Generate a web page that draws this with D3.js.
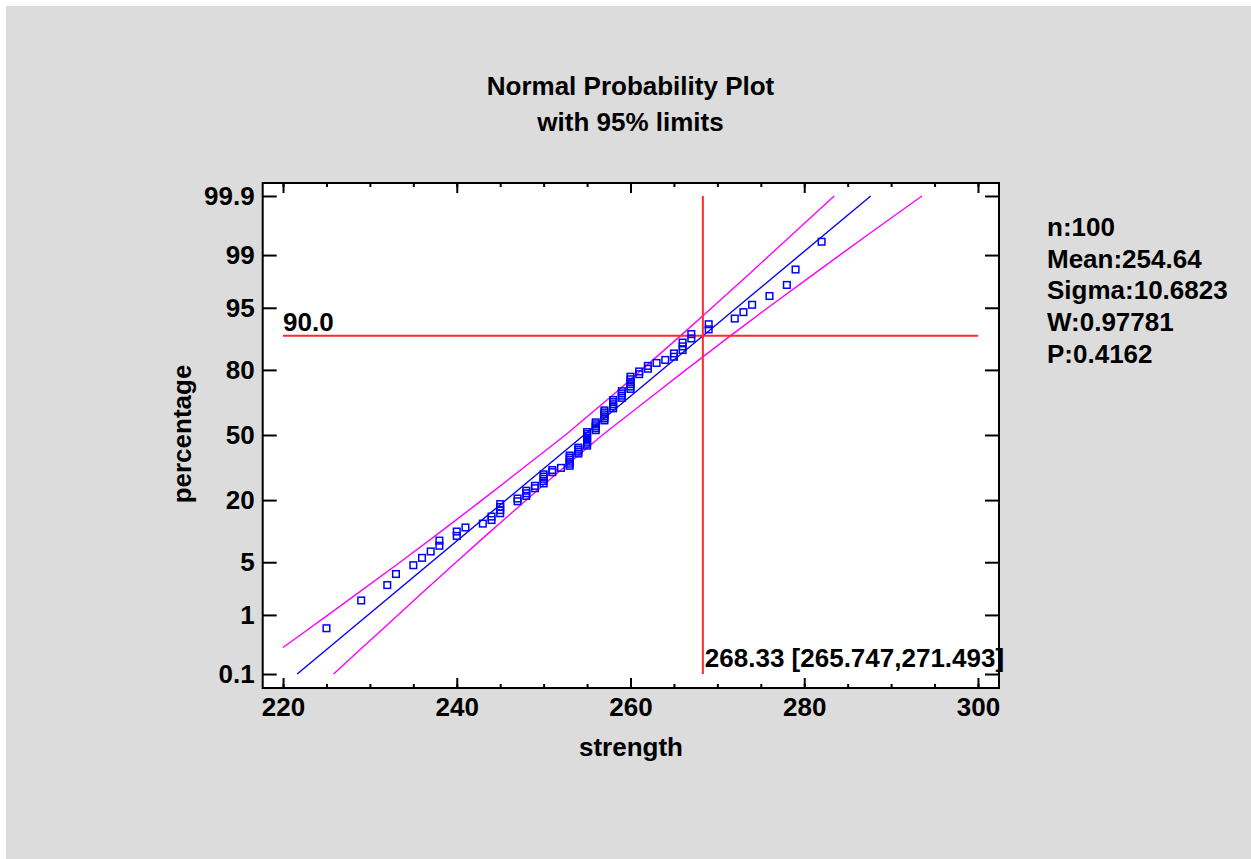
<!DOCTYPE html>
<html>
<head>
<meta charset="utf-8">
<script src="https://cdn.jsdelivr.net/npm/d3@7"></script>
<style>
  body { margin: 0; background: #fff; }
  text { font-family: "Liberation Sans", Arial, sans-serif; font-weight: bold; fill: #000; }
</style>
</head>
<body>
<script>
// strength values (sorted) and how many times each one occurs
const strengthValues = [225, 229, 232, 233, 235, 236, 237, 238, 240, 241, 243, 244, 245, 247, 248, 249, 250, 251, 252,
  253, 254, 255, 256, 257, 258, 259, 260, 261, 262, 263, 264, 265, 266, 267, 269, 272, 273, 274, 276, 278, 279, 282];
const tieCounts = [1, 1, 1, 1, 1, 1, 1, 2, 2, 1, 1, 2, 4, 2, 3, 2, 5, 2, 1,
  6, 4, 8, 5, 6, 5, 4, 6, 2, 2, 1, 1, 2, 3, 2, 2, 1, 1, 1, 1, 1, 1, 1];

// fitted normal
const statMean = 254.64;
const statSigma = 10.6823;
const statLines = ["n:100", "Mean:254.64", "Sigma:10.6823", "W:0.97781", "P:0.4162"];

// 95% limits (strength read at each percentage)
const bandPct = [0.1, 0.3, 0.5, 1, 2, 5, 10, 20, 30, 50, 70, 80, 90, 95, 98, 99, 99.5, 99.9];
const lowerLimit = [null, 220.0, 222.12, 225.19, 228.5, 233.47, 237.79, 242.9, 246.54, 252.51, 258.04, 261.28, 265.75, 269.36, 273.38, 276.04, 278.46, 283.45];
const upperLimit = [225.83, 229.13, 230.82, 233.24, 235.9, 239.92, 243.53, 248.0, 251.24, 256.77, 262.74, 266.38, 271.49, 275.81, 280.78, 284.09, 287.16, 293.55];

// crosshair
const crossPct = 90.0;
const crossValue = 268.33;
const crossLabel = "268.33 [265.747,271.493]";

const xTicks = [220, 240, 260, 280, 300];
const xMinorTicks = d3.range(220, 301, 5);
const yTickPct = [0.1, 1, 5, 20, 50, 80, 95, 99, 99.9];

// inverse normal CDF (Acklam)
function probit(p) {
  const a = [-3.969683028665376e+01, 2.209460984245205e+02, -2.759285104469687e+02, 1.383577518672690e+02, -3.066479806614716e+01, 2.506628277459239e+00];
  const b = [-5.447609879822406e+01, 1.615858368580409e+02, -1.556989798598866e+02, 6.680131188771972e+01, -1.328068155288572e+01];
  const c = [-7.784894002430293e-03, -3.223964580411365e-01, -2.400758277161838e+00, -2.549732539343734e+00, 4.374664141464968e+00, 2.938163982698783e+00];
  const d = [7.784695709041462e-03, 3.224671290700398e-01, 2.445134137142996e+00, 3.754408661907416e+00];
  const pl = 0.02425;
  if (p < pl) {
    const q = Math.sqrt(-2 * Math.log(p));
    return (((((c[0]*q+c[1])*q+c[2])*q+c[3])*q+c[4])*q+c[5]) / ((((d[0]*q+d[1])*q+d[2])*q+d[3])*q+1);
  }
  if (p > 1 - pl) {
    const q = Math.sqrt(-2 * Math.log(1 - p));
    return -(((((c[0]*q+c[1])*q+c[2])*q+c[3])*q+c[4])*q+c[5]) / ((((d[0]*q+d[1])*q+d[2])*q+d[3])*q+1);
  }
  const q = p - 0.5, r = q * q;
  return (((((a[0]*r+a[1])*r+a[2])*r+a[3])*r+a[4])*r+a[5])*q / (((((b[0]*r+b[1])*r+b[2])*r+b[3])*r+b[4])*r+1);
}

const W = 1251, H = 859;
const plotLeft = 262.7, plotRight = 999, plotTop = 183, plotBottom = 688;

const svg = d3.select("body").append("svg")
  .attr("width", W)
  .attr("height", H);

svg.append("rect").attr("x", 6).attr("y", 6).attr("width", W - 6).attr("height", H - 6).attr("fill", "#dcdcdc");
svg.append("rect").attr("x", plotLeft).attr("y", plotTop).attr("width", plotRight - plotLeft).attr("height", plotBottom - plotTop).attr("fill", "#fff");

const xScale = d3.scaleLinear().domain([217.66, 302.42]).range([plotLeft, plotRight]);
// y is linear in the normal quantile
const zScale = d3.scaleLinear().domain([-3.271, 3.258]).range([plotBottom, plotTop]);
const yPct = p => zScale(probit(p / 100));

// points
const sorted = [];
strengthValues.forEach((v, i) => { for (let k = 0; k < tieCounts[i]; k++) sorted.push(v); });
const n = sorted.length;
const points = sorted.map((v, i) => ({ x: v, pct: 100 * (i + 1 - 0.375) / (n + 0.25) }));

// limits
const lowerBand = bandPct.map((p, i) => ({ pct: p, x: lowerLimit[i] })).filter(d => d.x !== null);
const upperBand = bandPct.map((p, i) => ({ pct: p, x: upperLimit[i] }));
const line = d3.line().x(d => xScale(d.x)).y(d => yPct(d.pct));

svg.append("path").datum(lowerBand).attr("d", line)
  .attr("fill", "none").attr("stroke", "#ff00ff").attr("stroke-width", 1.4);
svg.append("path").datum(upperBand).attr("d", line)
  .attr("fill", "none").attr("stroke", "#ff00ff").attr("stroke-width", 1.4);

// fitted line
const fitLine = [0.1, 99.9].map(p => ({ pct: p, x: statMean + statSigma * probit(p / 100) }));
svg.append("path").datum(fitLine).attr("d", line)
  .attr("fill", "none").attr("stroke", "#0000ff").attr("stroke-width", 1.4);

// crosshair
svg.append("line")
  .attr("x1", xScale(crossValue)).attr("x2", xScale(crossValue))
  .attr("y1", yPct(99.9)).attr("y2", yPct(0.1))
  .attr("stroke", "#ff2a2a").attr("stroke-width", 2);
svg.append("line")
  .attr("x1", xScale(220)).attr("x2", xScale(300))
  .attr("y1", yPct(crossPct)).attr("y2", yPct(crossPct))
  .attr("stroke", "#ff2a2a").attr("stroke-width", 2);

svg.selectAll("rect.pt")
  .data(points)
  .enter()
  .append("rect")
  .attr("class", "pt")
  .attr("x", d => xScale(d.x) - 3.3)
  .attr("y", d => yPct(d.pct) - 3.3)
  .attr("width", 6.6)
  .attr("height", 6.6)
  .attr("fill", "none")
  .attr("stroke", "#0000ff")
  .attr("stroke-width", 1.5);

// axes
const fs = "26px";
svg.append("g").attr("transform", `translate(0,${plotBottom})`)
  .call(d3.axisBottom(xScale).tickValues(xTicks).tickSize(-10).tickPadding(10).tickFormat(d3.format("d")));
svg.append("g").attr("transform", `translate(0,${plotBottom})`)
  .call(d3.axisBottom(xScale).tickValues(xMinorTicks).tickSize(-4).tickFormat(""));
svg.append("g").attr("transform", `translate(0,${plotTop})`)
  .call(d3.axisTop(xScale).tickValues(xTicks).tickSize(-10).tickFormat(""));
svg.append("g").attr("transform", `translate(0,${plotTop})`)
  .call(d3.axisTop(xScale).tickValues(xMinorTicks).tickSize(-4).tickFormat(""));

svg.append("g").attr("transform", `translate(${plotLeft},0)`)
  .call(d3.axisLeft(zScale).tickValues(yTickPct.map(p => probit(p / 100))).tickSize(-14).tickPadding(8)
    .tickFormat((d, i) => String(yTickPct[i])));
svg.append("g").attr("transform", `translate(${plotRight},0)`)
  .call(d3.axisRight(zScale).tickValues(yTickPct.map(p => probit(p / 100))).tickSize(-14).tickFormat(""));

svg.selectAll(".domain").remove();
svg.selectAll(".tick line").attr("stroke", "#000").attr("stroke-width", 2);
svg.selectAll(".tick text")
  .style("font-family", '"Liberation Sans", Arial, sans-serif')
  .style("font-weight", "bold")
  .style("font-size", fs)
  .attr("fill", "#000");

svg.append("rect").attr("x", plotLeft).attr("y", plotTop).attr("width", plotRight - plotLeft).attr("height", plotBottom - plotTop)
  .attr("fill", "none").attr("stroke", "#000").attr("stroke-width", 2);

// texts
svg.append("text").attr("x", 630.5).attr("y", 95).attr("text-anchor", "middle").style("font-size", fs)
  .text("Normal Probability Plot");
svg.append("text").attr("x", 630.5).attr("y", 131).attr("text-anchor", "middle").style("font-size", fs)
  .text("with 95% limits");
svg.append("text").attr("x", 631).attr("y", 756).attr("text-anchor", "middle").style("font-size", fs)
  .text("strength");
svg.append("text").attr("transform", "translate(191,434) rotate(-90)").attr("text-anchor", "middle").style("font-size", fs)
  .text("percentage");

svg.append("text").attr("x", xScale(220)).attr("y", yPct(crossPct) - 5).style("font-size", fs)
  .text(crossPct.toFixed(1));
svg.append("text").attr("x", xScale(crossValue) + 2).attr("y", 667).style("font-size", fs)
  .text(crossLabel);

svg.selectAll("text.stat")
  .data(statLines)
  .enter()
  .append("text")
  .attr("class", "stat")
  .attr("x", 1047)
  .attr("y", (d, i) => 236 + i * 31.7)
  .style("font-size", fs)
  .text(d => d);
</script>
</body>
</html>
